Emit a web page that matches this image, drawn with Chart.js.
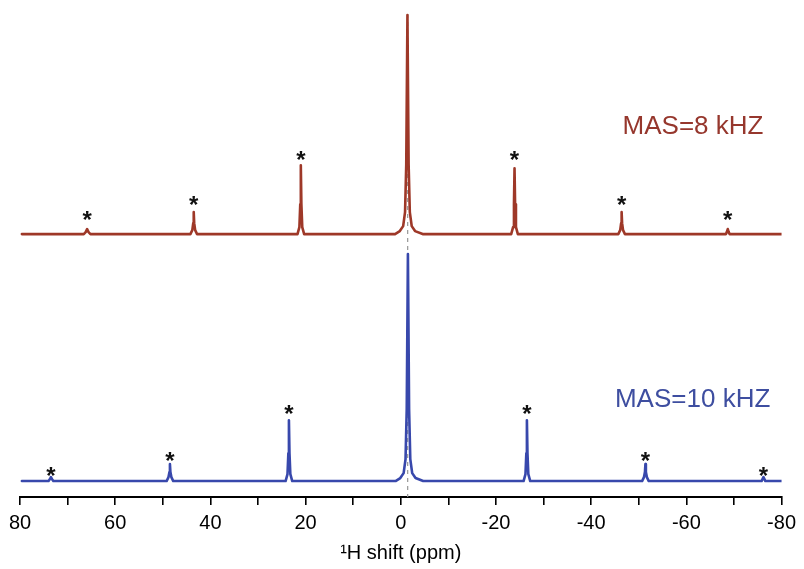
<!DOCTYPE html>
<html>
<head>
<meta charset="utf-8">
<script src="https://cdn.jsdelivr.net/npm/chart.js@4/dist/chart.umd.min.js"></script>
<style>
html,body{margin:0;padding:0;background:#fff;}
#wrap{width:804px;height:569px;}
</style>
</head>
<body>
<div id="wrap"><canvas id="c" width="804" height="569"></canvas></div>
<script>
// ---- data (ppm, intensity above each baseline) ----
const redPpm = [79.6, 66.6,66.2,65.9,65.6,65.2, 44.2,43.8,43.6,43.5,43.4,43.2,42.8, 21.7,21.3,21.12,21.0,20.88,20.7,20.3,
  1.2,0.2,-0.5,-0.9,-1.15,-1.4,-1.65,-1.9,-2.3,-3.0,-4.6,
  -23.2,-23.6,-23.78,-23.9,-24.02,-24.2,-24.6, -45.7,-46.1,-46.3,-46.4,-46.5,-46.7,-47.1, -68.3,-68.5,-68.7,-68.9,-69.1, -80.5];
const redInt = [0, 0,2,5,2,0, 0,4,11,22,11,4,0, 0,7,30,69,30,7,0,
  0,3,8,22,70,220,70,22,8,3,0,
  0,7,30,66,30,7,0, 0,4,11,22,11,4,0, 0,2,5,2,0, 0];

const bluePpm = [79.6, 74.0,73.7,73.5,73.3,73.0, 49.2,48.8,48.6,48.5,48.4,48.2,47.8, 24.2,23.8,23.62,23.5,23.38,23.2,22.8,
  1.1,0.1,-0.6,-1.0,-1.25,-1.5,-1.75,-2.0,-2.4,-3.1,-4.7,
  -25.8,-26.2,-26.38,-26.5,-26.62,-26.8,-27.2, -50.7,-51.1,-51.3,-51.4,-51.5,-51.7,-52.1, -75.8,-76.0,-76.2,-76.4,-76.6, -80.5];
const blueInt = [0, 0,2,4,2,0, 0,4,9,17,9,4,0, 0,7,28,61,28,7,0,
  0,3,8,22,72,228,72,22,8,3,0,
  0,7,28,61,28,7,0, 0,4,9,17,9,4,0, 0,2,4,2,0, 0];

// spinning sidebands marked with asterisks (ppm, height of mark above baseline)
const redStarPpm = [65.9, 43.5, 21.0, -23.9, -46.4, -68.7];
const redStarInt = [20, 35, 80, 80, 35, 20];
const blueStarPpm = [73.5, 48.5, 23.5, -26.5, -51.4, -76.2];
const blueStarInt = [11, 26, 73, 73, 26, 11];

const centerPpm = -1.45;
const redOffset = 264;   // vertical stacking offset of the 8 kHz trace
const blueOffset = 16;   // vertical stacking offset of the 10 kHz trace
const redLabel = 'MAS=8 kHZ';
const blueLabel = 'MAS=10 kHZ';
const xTickValues = [80, 60, 40, 20, 0, -20, -40, -60, -80];

const RED = 'rgb(158,56,40)';
const BLUE = 'rgb(56,72,172)';
const RED_TXT = 'rgb(150,55,45)';
const BLUE_TXT = 'rgb(62,78,160)';

function pts(xs, ys, off){ return xs.map((x,i)=>({x:x, y:ys[i]+off})); }

const overlay = {
  id:'overlay',
  beforeDatasetsDraw(chart){
    const {ctx, scales:{x,y}} = chart;
    const px = x.getPixelForValue(centerPpm);
    ctx.save();
    ctx.strokeStyle = 'rgb(150,150,150)';
    ctx.lineWidth = 1.2;
    ctx.setLineDash([4,4]);
    ctx.beginPath();
    ctx.moveTo(px, y.getPixelForValue(y.max) + 2);
    ctx.lineTo(px, y.getPixelForValue(0));
    ctx.stroke();
    ctx.restore();
  },
  afterDatasetsDraw(chart){
    const {ctx, scales:{x,y}} = chart;
    ctx.save();
    ctx.fillStyle = '#111';
    ctx.font = 'bold 24px "Liberation Sans", Arial, sans-serif';
    ctx.textAlign = 'center';
    ctx.textBaseline = 'alphabetic';
    const star = (p, h, off) => {
      ctx.fillText('*', x.getPixelForValue(p), y.getPixelForValue(h + off) + 14);
    };
    redStarPpm.forEach((p,i)=>star(p, redStarInt[i], redOffset));
    blueStarPpm.forEach((p,i)=>star(p, blueStarInt[i], blueOffset));
    ctx.font = '26px "Liberation Sans", Arial, sans-serif';
    ctx.textAlign = 'left';
    ctx.fillStyle = RED_TXT;
    ctx.fillText(redLabel, x.getPixelForValue(-46.6), y.getPixelForValue(redOffset + 100));
    ctx.fillStyle = BLUE_TXT;
    ctx.fillText(blueLabel, x.getPixelForValue(-45.0), y.getPixelForValue(blueOffset + 74));
    ctx.restore();
  }
};

new Chart(document.getElementById('c'), {
  type: 'scatter',
  data: {
    datasets: [
      { label: redLabel, data: pts(redPpm, redInt, redOffset), showLine: true, borderColor: RED,
        borderWidth: 2.6, borderJoinStyle: 'round', borderCapStyle: 'round', pointRadius: 0, tension: 0, fill: false },
      { label: blueLabel, data: pts(bluePpm, blueInt, blueOffset), showLine: true, borderColor: BLUE,
        borderWidth: 2.6, borderJoinStyle: 'round', borderCapStyle: 'round', pointRadius: 0, tension: 0, fill: false }
    ]
  },
  options: {
    responsive: false,
    animation: false,
    devicePixelRatio: 1,
    layout: { padding: { left: 20, right: 18, top: 12, bottom: 0 } },
    plugins: { legend: { display: false }, tooltip: { enabled: false } },
    scales: {
      x: {
        type: 'linear', min: -80, max: 80, reverse: true,
        border: { display: true, color: '#000', width: 2 },
        grid: { drawOnChartArea: false, drawTicks: true, tickLength: 8, color: '#000', lineWidth: 1.6 },
        ticks: {
          stepSize: 10, autoSkip: false, maxRotation: 0, padding: 8, color: '#000',
          font: { family: '"Liberation Sans", Arial, sans-serif', size: 20, lineHeight: 1.0 },
          callback: (v) => xTickValues.includes(v) ? String(v) : ''
        },
        title: { display: true, text: '\u00B9H shift (ppm)', color: '#000',
          font: { family: '"Liberation Sans", Arial, sans-serif', size: 20 }, padding: { top: 0, bottom: 4 } }
      },
      y: { type: 'linear', min: 0, max: 487, display: false }
    }
  },
  plugins: [overlay]
});
</script>
</body>
</html>
